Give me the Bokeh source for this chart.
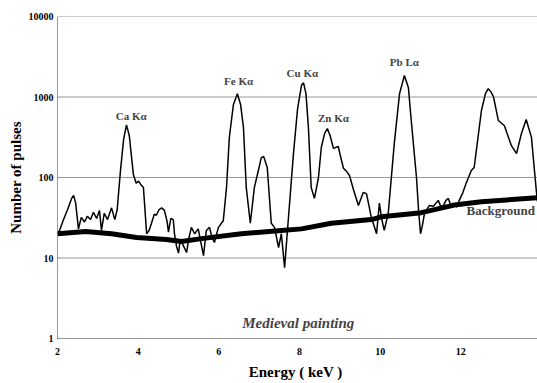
from bokeh.plotting import figure
from bokeh.models import FixedTicker, PrintfTickFormatter, Label, Span
from bokeh.embed import file_html
from bokeh.resources import INLINE

# Spectrum (energy keV, number of pulses)
energy = [2.0, 2.05, 2.15, 2.25, 2.35, 2.40, 2.45, 2.52, 2.59, 2.67, 2.74, 2.82, 2.89, 2.97,
          3.04, 3.09, 3.16, 3.24, 3.34, 3.42, 3.48, 3.56, 3.64, 3.71, 3.78, 3.88, 3.95, 4.01,
          4.08, 4.13, 4.21, 4.27, 4.33, 4.40, 4.45, 4.52, 4.58, 4.65, 4.72, 4.75, 4.81, 4.87,
          4.90, 4.95, 5.00, 5.04, 5.10, 5.20, 5.26, 5.32, 5.40, 5.49, 5.55, 5.62, 5.69, 5.77,
          5.83, 5.89, 5.99, 6.11, 6.19, 6.26, 6.36, 6.46, 6.54, 6.61, 6.68, 6.78, 6.88, 6.98,
          7.05, 7.11, 7.20, 7.30, 7.38, 7.48, 7.55, 7.63, 7.72, 7.85, 7.95, 8.05, 8.10, 8.16,
          8.22, 8.29, 8.37, 8.47, 8.54, 8.62, 8.69, 8.76, 8.84, 8.96, 9.02, 9.09, 9.16, 9.24,
          9.34, 9.46, 9.58, 9.66, 9.72, 9.78, 9.85, 9.91, 9.98, 10.03, 10.10, 10.20, 10.35,
          10.48, 10.60, 10.70, 10.77, 10.90, 10.95, 11.00, 11.05, 11.10, 11.22, 11.32, 11.44,
          11.50, 11.57, 11.63, 11.69, 11.75, 11.81, 11.90, 11.96, 12.05, 12.14, 12.26, 12.33,
          12.42, 12.51, 12.61, 12.68, 12.75, 12.81, 12.93, 13.08, 13.25, 13.38, 13.50, 13.62,
          13.75, 13.87, 13.90]
pulses = [20, 22, 30, 40, 55, 60, 48, 23, 32, 28, 33, 30, 37, 31,
          39, 22, 36, 30, 42, 30, 40, 120, 300, 450, 330, 110, 85, 90,
          80, 75, 20, 22, 27, 35, 34, 40, 42, 39, 28, 21, 31, 30,
          20, 14, 11.5, 16.5, 15, 11.7, 18, 24, 20, 23, 16, 10.7, 22, 24,
          18, 15.6, 24, 29, 75, 314, 800, 1100, 800, 420, 75, 27, 75, 122,
          175, 183, 133, 27, 24, 13.5, 20, 7.6, 29, 198, 700, 1400, 1500, 1100,
          420, 75, 55, 100, 236, 350, 405, 330, 230, 243, 180, 130, 120, 106,
          70, 45, 65, 63, 45, 32, 25, 20, 48, 32, 22, 36, 265,
          1100, 1850, 1300, 510, 100, 40, 20, 26, 36, 45, 44, 52,
          44, 45, 52, 55, 45, 48, 43, 52, 65, 87, 122, 133,
          300, 680, 1100, 1270, 1150, 1000, 510, 440, 250, 198, 350, 525,
          315, 69, 50]

# Background curve
bg_energy = [2.0, 2.7, 3.34, 3.96, 4.7, 5.07, 5.57, 6.56, 7.55, 8.05, 8.79, 9.78, 10.03,
             11.02, 11.89, 12.51, 13.9]
bg_pulses = [20, 21.3, 20, 18, 17, 16, 17.4, 20, 22, 23, 27, 30, 32.5, 36.6, 46, 50, 56]

# Peak labels
peak_names = ["Ca K\u03b1", "Fe K\u03b1", "Cu K\u03b1", "Zn K\u03b1", "Pb L\u03b1"]
peak_energy = [3.83, 6.49, 8.07, 8.84, 10.60]
peak_label_y = [573, 1560, 2015, 556, 2683]

x_ticks = [2, 4, 6, 8, 10, 12]
y_ticks = [1, 10, 100, 1000, 10000]

SERIF = "Liberation Serif"

p = figure(width=537, height=383, output_backend="svg", toolbar_location=None,
           y_axis_type="log", x_range=(2, 13.9), y_range=(1, 10000),
           min_border_left=57, min_border_right=0, min_border_top=16, min_border_bottom=45)
p.outline_line_color = None
p.background_fill_color = "white"
p.border_fill_color = "white"

p.xgrid.visible = False
p.ygrid.visible = False
for v in y_ticks[1:]:
    p.add_layout(Span(location=v, dimension="width", line_color="#333333",
                      line_width=1, line_dash="1 1"))

p.line(bg_energy, bg_pulses, line_color="black", line_width=5)
p.line(energy, pulses, line_color="black", line_width=1.5)

for name, ex, ey in zip(peak_names, peak_energy, peak_label_y):
    p.add_layout(Label(x=ex, y=ey, text=name, text_font=SERIF, text_font_size="11px",
                       text_font_style="bold", text_align="center", text_baseline="middle"))

p.add_layout(Label(x=12.14, y=38.9, text="Background", text_font=SERIF,
                   text_font_size="13px", text_font_style="bold",
                   text_align="left", text_baseline="middle"))
p.add_layout(Label(x=7.97, y=1.54, text="Medieval painting", text_font=SERIF,
                   text_font_size="15px", text_font_style="bold italic",
                   text_align="center", text_baseline="middle"))

p.xaxis.ticker = FixedTicker(ticks=x_ticks)
p.yaxis.ticker = FixedTicker(ticks=y_ticks)
p.yaxis.formatter = PrintfTickFormatter(format="%d")
for ax in (p.xaxis[0], p.yaxis[0]):
    ax.axis_line_color = "#333333"
    ax.axis_line_dash = "1 1"
    ax.major_tick_out = 0
    ax.major_tick_in = 0
    ax.minor_tick_out = 0
    ax.minor_tick_in = 0
    ax.major_label_text_font = SERIF
    ax.major_label_text_font_size = "10px"
    ax.major_label_text_font_style = "bold"
    ax.major_label_text_color = "black"
    ax.axis_label_text_font = SERIF
    ax.axis_label_text_font_size = "15px"
    ax.axis_label_text_font_style = "bold"
    ax.axis_label_text_color = "black"

p.xaxis.axis_label = "Energy  ( keV )"
p.yaxis.axis_label = "Number of pulses"
p.xaxis.major_label_standoff = 9
p.xaxis.axis_label_standoff = 6
p.yaxis.major_label_standoff = 4
p.yaxis.axis_label_standoff = 2

open("out.html", "w").write(file_html(p, INLINE))
